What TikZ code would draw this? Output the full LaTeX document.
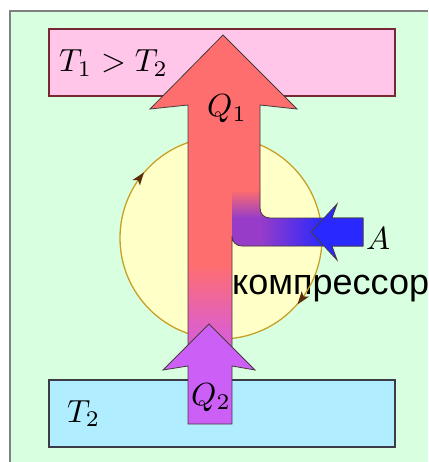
\documentclass[tikz,border=0pt]{standalone}
\usepackage{fontspec}
\newfontfamily\ruslabel{Liberation Sans}

\definecolor{panelgreen}{RGB}{216,255,224}
\definecolor{hotpink}{RGB}{255,198,234}
\definecolor{hotedge}{RGB}{120,40,50}
\definecolor{coldblue}{RGB}{176,238,255}
\definecolor{coldedge}{RGB}{60,60,70}
\definecolor{ringfill}{RGB}{255,255,200}
\definecolor{ringedge}{RGB}{200,160,40}
\definecolor{ringtip}{RGB}{90,45,10}
\definecolor{heatred}{RGB}{255,110,110}
\definecolor{heatmagenta}{RGB}{220,95,205}
\definecolor{junction}{RGB}{150,60,200}
\definecolor{workblue}{RGB}{40,40,255}
\definecolor{lowviolet}{RGB}{204,95,245}
\definecolor{arrowedge}{RGB}{70,60,60}

\pgfdeclareverticalshading{heatflow}{100bp}{color(0bp)=(heatmagenta); color(28bp)=(heatmagenta); color(39bp)=(heatred); color(100bp)=(heatred)}
\pgfdeclarehorizontalshading{workflow}{100bp}{color(0bp)=(junction); color(36bp)=(junction); color(60bp)=(workblue); color(100bp)=(workblue)}

\newcommand{\biglabel}[1]{\scalebox{3.2}{#1}}

\tikzset{
  reservoir/.style={line width=1.2pt, minimum width=346pt, minimum height=67pt, inner sep=0pt},
  mathlabel/.style={inner sep=0pt},
  heatoutline/.style={insert path={(223,35) -- (297,109) -- (260,105) -- (260,208)
    .. controls (260,214) and (264,218) .. (270,218) -- (363,218) -- (363,246) -- (242,246)
    .. controls (236,246) and (232,242) .. (232,236) -- (232,352) -- (188,352) -- (188,105)
    -- (150,109) -- cycle}}
}

\begin{document}
\begin{tikzpicture}[x=1pt,y=-1pt]
\useasboundingbox (0,0) rectangle (428,462);
% panel
\fill[white] (0,0) rectangle (428,462);
\fill[panelgreen] (10,11) rectangle (428,462);
\draw[gray, line width=1.2pt] (10,462) -- (10,11) -- (428,11);

% hot and cold reservoirs
\node[reservoir, fill=hotpink, draw=hotedge] (hot) at (222,62.5) {};
\node[reservoir, fill=coldblue, draw=coldedge] (cold) at (222,413.5) {};

% compressor cycle
\fill[ringfill] (221,238) circle[radius=101];
\node[anchor=base west, inner sep=0pt, font=\ruslabel\fontsize{36}{40}\selectfont] (compressor) at (232,294) {компрессор};
\draw[ringedge, line width=1.3pt] (221,238) circle[radius=101];
\fill[ringtip] (144.0,172.3) -- (139.9,185.4) -- (138.0,180.3) -- (132.6,180.0) -- cycle;
\fill[ringtip] (297.5,304.4) -- (308.9,296.7) -- (303.5,296.4) -- (301.7,291.3) -- cycle;

% heat flow Q1
\shade[shading=heatflow, heatoutline];
\shade[top color=heatred, bottom color=junction] (232,190) -- (260,190) -- (260,208)
  .. controls (260,214) and (264,218) .. (270,218) -- (232,218) -- cycle;
\shade[shading=workflow] (232,218) -- (363,218) -- (363,246) -- (242,246)
  .. controls (236,246) and (232,242) .. (232,236) -- cycle;
\draw[arrowedge, line width=0.8pt, heatoutline];

% work A
\draw[arrowedge, fill=workblue, line width=0.8pt] (311,232) -- (337,204) -- (332,218) -- (363,218)
  -- (363,246) -- (332,246) -- (337,260) -- cycle;

% heat flow Q2
\draw[arrowedge, fill=lowviolet, line width=0.8pt] (209,324) -- (255,370) -- (232,366) -- (232,424)
  -- (188,424) -- (188,366) -- (163,370) -- cycle;

% labels
\node[mathlabel, anchor=base west] (hotlabel) at (59,72) {\biglabel{$T_1 > T_2$}};
\node[mathlabel, anchor=base west] (coldlabel) at (67,422) {\biglabel{$T_2$}};
\node[mathlabel, anchor=base west] (qone) at (207,117) {\biglabel{$Q_1$}};
\node[mathlabel, anchor=base west] (qtwo) at (191,405) {\biglabel{$Q_2$}};
\node[mathlabel, anchor=base west] (work) at (366,249) {\biglabel{$A$}};
\end{tikzpicture}
\end{document}
